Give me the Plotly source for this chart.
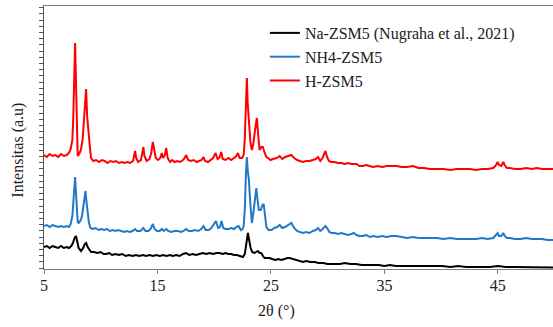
import plotly.graph_objects as go

# 2-theta positions (degrees) and intensities (a.u.)
red_x = [5.0,5.25,5.5,5.75,6.0,6.25,6.5,6.75,7.0,7.2,7.35,7.5,7.58,7.66,7.74,7.82,7.9,7.97,8.1,8.25,8.4,8.52,8.62,8.71,8.8,8.88,8.95,9.05,9.15,9.35,9.6,9.85,10.1,10.35,10.6,10.85,11.1,11.35,11.6,11.85,12.1,12.35,12.6,12.85,12.95,13.03,13.12,13.3,13.55,13.68,13.76,13.85,14.05,14.3,14.45,14.59,14.7,14.85,15.05,15.25,15.38,15.5,15.65,15.77,15.9,16.1,16.3,16.5,16.75,17.0,17.25,17.4,17.53,17.7,17.95,18.2,18.45,18.7,18.9,19.06,19.2,19.45,19.7,19.9,20.12,20.3,20.45,20.62,20.75,21.0,21.25,21.5,21.75,21.95,22.09,22.25,22.45,22.6,22.7,22.8,22.88,22.95,23.02,23.1,23.2,23.32,23.45,23.6,23.76,23.86,24.0,24.15,24.29,24.45,24.6,24.74,24.95,25.2,25.5,25.77,26.0,26.25,26.5,26.8,27.05,27.3,27.55,27.82,28.1,28.4,28.7,28.95,29.15,29.35,29.55,29.8,29.95,30.1,30.33,30.6,30.9,31.2,31.5,31.8,32.1,32.3,32.54,32.8,33.1,33.4,33.71,34.0,34.4,34.8,35.2,35.6,36.07,36.5,37.0,37.53,38.0,38.5,39.0,39.6,40.2,40.8,41.4,42.0,42.54,43.1,43.6,44.1,44.6,44.85,44.98,45.1,45.3,45.48,45.6,45.8,46.07,46.5,47.0,47.5,48.0,48.42,48.9,49.4,49.86]
red_y = [113,111,114,112,113,111,114,112,113,115,119,128,150,190,225,185,135,112,114,118,128,145,165,179,152,136,133,120,110,107,108,106,108,107,105,107,106,107,105,106,105,106,105,107,112,117,110,106,108,115,121,112,107,109,115,126,118,110,108,110,115,110,113,120,110,106,108,106,107,106,108,110,113,108,107,108,106,107,108,111,107,106,108,110,115,109,110,116,109,108,110,108,110,112,115,110,110,113,130,170,190,165,152,140,125,118,124,138,150,135,118,121,121,115,111,110,108,109,110,112,109,111,112,113,110,108,107,106,107,107,108,109,111,107,110,117,111,107,106,106,105,105,104,105,104,104,104,102,102,103,102,101,102,101,102,102,102,101,101,102,100,100,99,99,99,98,99,99,99,98,99,99,100,103,106,103,102,106,103,100,100,99,99,100,99,100,99,99,99]

blue_x = [5.0,5.25,5.5,5.75,6.0,6.25,6.5,6.75,7.0,7.2,7.35,7.5,7.6,7.68,7.74,7.82,7.9,7.97,8.05,8.2,8.35,8.5,8.6,8.66,8.75,8.85,8.95,9.09,9.3,9.55,9.8,10.05,10.3,10.55,10.8,11.05,11.3,11.55,11.8,12.05,12.3,12.55,12.8,13.03,13.2,13.5,13.76,13.95,14.2,14.4,14.59,14.75,14.95,15.2,15.38,15.55,15.77,15.95,16.2,16.5,16.8,17.1,17.3,17.53,17.75,18.0,18.3,18.6,18.85,19.06,19.25,19.5,19.75,19.95,20.15,20.35,20.5,20.65,20.8,21.0,21.25,21.5,21.75,21.95,22.15,22.35,22.5,22.6,22.7,22.8,22.88,22.95,23.06,23.15,23.25,23.32,23.45,23.6,23.71,23.82,23.94,24.1,24.25,24.36,24.48,24.6,24.8,25.05,25.3,25.55,25.77,26.0,26.25,26.5,26.8,27.05,27.3,27.55,27.82,28.1,28.4,28.7,28.95,29.15,29.35,29.55,29.8,29.95,30.15,30.33,30.6,30.9,31.2,31.5,31.8,32.1,32.3,32.54,32.8,33.1,33.4,33.71,34.0,34.4,34.8,35.2,35.6,36.07,36.5,37.0,37.53,38.0,38.5,39.0,39.6,40.2,40.8,41.4,42.0,42.54,43.1,43.6,44.1,44.6,44.85,44.98,45.1,45.3,45.48,45.6,45.8,46.07,46.5,47.0,47.5,48.0,48.42,48.9,49.4,49.86]
blue_y = [42,43,41,43,42,41,42,41,42,41,44,52,68,85,91,75,55,46,45,47,52,64,75,77,66,55,46,40,39,40,38,39,38,39,37,38,37,38,37,36,37,36,37,39,37,37,40,37,37,39,44,39,37,37,39,37,39,37,36,37,37,36,37,39,37,37,38,37,39,42,38,38,40,44,47,40,41,47,40,39,39,40,39,41,42,38,39,42,60,95,111,98,88,70,50,45,55,72,80,68,58,58,63,64,50,41,38,38,40,41,43,40,41,43,45,40,37,36,35,36,35,37,38,40,37,39,42,40,36,35,35,34,35,34,33,34,35,33,32,32,33,31,32,31,32,31,32,32,31,30,31,30,30,30,30,29,30,29,29,29,29,30,29,30,33,35,32,32,35,32,30,30,29,29,30,29,29,29,28,28]

black_x = [5.0,5.25,5.5,5.75,6.0,6.25,6.5,6.75,7.0,7.2,7.4,7.55,7.7,7.82,7.92,8.05,8.27,8.45,8.6,8.71,8.85,9.0,9.15,9.4,9.7,10.0,10.25,10.47,10.75,11.0,11.3,11.6,11.9,12.2,12.5,12.8,13.1,13.41,13.7,14.0,14.3,14.6,14.9,15.2,15.5,15.8,16.1,16.35,16.65,16.95,17.25,17.53,17.8,18.1,18.4,18.7,19.0,19.3,19.6,19.9,20.2,20.47,20.75,21.0,21.25,21.5,21.75,22.0,22.25,22.53,22.7,22.85,22.97,23.08,23.21,23.35,23.56,23.7,23.85,24.0,24.15,24.3,24.44,24.65,24.88,25.1,25.4,25.65,25.92,26.2,26.45,26.65,26.9,27.2,27.5,27.82,28.1,28.5,28.86,29.2,29.6,30.0,30.4,30.77,31.1,31.5,32.0,32.5,33.0,33.5,34.0,34.5,35.0,35.5,36.0,36.65,37.3,38.0,38.7,39.4,40.1,40.8,41.5,42.2,42.9,43.6,44.3,45.0,45.7,46.4,47.1,47.8,48.5,49.2,49.86]
black_y = [21,22,20,22,21,20,22,20,21,20,22,25,30,32,27,20,17,20,24,25,21,18,16,16,15,16,14,14,15,13,14,13,14,12,13,12,13,12,13,12,13,12,13,12,13,12,13,12,13,12,14,15,13,14,13,14,15,14,15,14,15,15,14,15,14,14,13,13,12,11,14,28,35,28,20,16,15,16,17,15,15,12,10,10,10,9,8,9,8,9,10,10,9,8,7,6,7,6,6,5,5,4,4,4,4,5,4,4,3,3,3,3,2,3,2,2,2,2,2,2,2,1,2,1,1,1,1,2,1,1,1,1,1,0.5,0.5]

series_names = ["Na-ZSM5 (Nugraha et al., 2021)", "NH4-ZSM5", "H-ZSM5"]
x_ticks = [5, 15, 25, 35, 45]

SERIF = "Liberation Serif, Times New Roman, serif"

fig = go.Figure()
for name, xs, ys, col in [
    (series_names[0], black_x, black_y, "#000000"),
    (series_names[1], blue_x, blue_y, "#1F78C8"),
    (series_names[2], red_x, red_y, "#FF0000"),
]:
    fig.add_trace(go.Scatter(x=xs, y=ys, mode="lines", name=name,
                             line=dict(color=col, width=2)))

fig.update_layout(
    width=553, height=327,
    margin=dict(l=44, r=0, t=6, b=58),
    paper_bgcolor="white", plot_bgcolor="white",
    showlegend=True,
    legend=dict(x=0.434, y=0.962, xanchor="left", yanchor="top",
                bgcolor="rgba(0,0,0,0)", font=dict(family=SERIF, size=16, color="#222"),
                tracegroupgap=0),
    xaxis=dict(range=[5, 49.86], tickmode="array", tickvals=x_ticks,
               ticktext=[str(t) for t in x_ticks],
               ticks="outside", ticklen=4, tickcolor="#808080",
               showline=True, linecolor="#808080", linewidth=1.2, mirror=True,
               showgrid=False, zeroline=False, ticklabelstandoff=-2,
               tickfont=dict(family=SERIF, size=16, color="#222")),
    yaxis=dict(range=[-1, 262], tickmode="linear", tick0=0, dtick=6.2,
               ticks="outside", ticklen=4, tickcolor="#555555",
               showticklabels=False, showline=True, linecolor="#555555", linewidth=1.2,
               showgrid=False, zeroline=False),
    annotations=[
        dict(text="Intensitas (a.u)", textangle=-90, xref="paper", yref="paper",
             x=-0.05, y=0.452, xanchor="center", yanchor="middle", showarrow=False,
             font=dict(family=SERIF, size=16, color="#222")),
        dict(text="2θ (°)", xref="paper", yref="paper",
             x=0.456, y=-0.16, xanchor="center", yanchor="middle", showarrow=False,
             font=dict(family=SERIF, size=16, color="#222")),
    ],
)

fig.write_html("out.html", config={"displayModeBar": False},
               post_script="document.body.style.margin='0px';")
